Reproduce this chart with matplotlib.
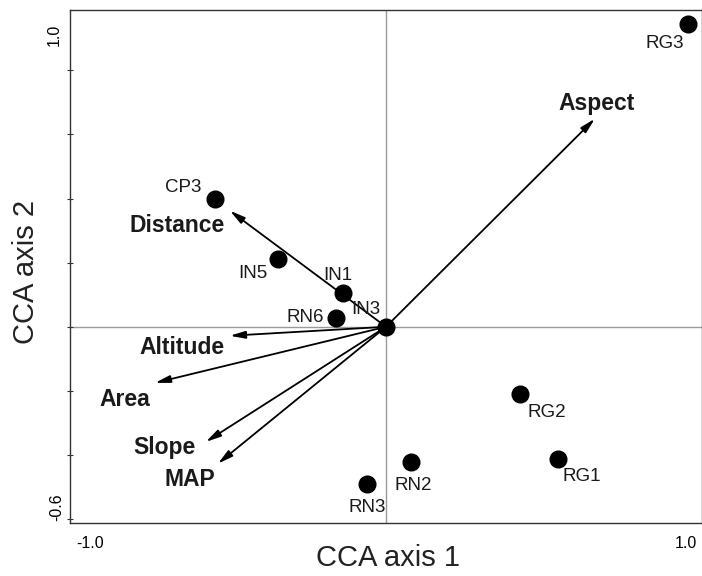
import matplotlib
matplotlib.use('Agg')
import matplotlib.pyplot as plt

plt.rcParams['font.family'] = ['Liberation Sans', 'DejaVu Sans']

# Site scores on the first two CCA axes
sites = ['CP3', 'IN5', 'IN1', 'RN6', 'IN3', 'RN3', 'RN2', 'RG2', 'RG1', 'RG3']
site_x = [-0.541, -0.342, -0.136, -0.158, 0.0, -0.060, 0.079, 0.424, 0.544, 0.956]
site_y = [0.399, 0.212, 0.106, 0.028, 0.0, -0.490, -0.421, -0.209, -0.412, 0.945]

# Environmental variable biplot scores
variables = ['Aspect', 'Distance', 'Altitude', 'Area', 'Slope', 'MAP']
var_x = [0.661, -0.494, -0.494, -0.731, -0.570, -0.532]
var_y = [0.649, 0.362, -0.028, -0.175, -0.359, -0.427]

# label offsets in pixels (dx right, dy up)
site_off = [(-32, 11), (-25, -15), (-5, 17), (-31, 0), (-20, 17),
            (0, -24), (2, -24), (27, -19), (24, -18), (-23, -20)]
var_off = [(2, 15), (-53, -15), (-48, -12), (-30, -17), (-41, -6), (-28, -16)]

W, H = 702, 576
fig = plt.figure(figsize=(W / 100, H / 100), dpi=100)
ax = fig.add_axes([70 / W, (H - 523) / H, (W - 70) / W, 513 / H])

ax.set_xlim(-1.0, 1.0)
ax.set_ylim(-0.612, 0.988)

ax.axhline(0, color='#9a9a9a', lw=1.0, zorder=1)
ax.axvline(0, color='#9a9a9a', lw=1.0, zorder=1)

for vx, vy in zip(var_x, var_y):
    ax.annotate('', xy=(vx, vy), xytext=(0, 0),
                arrowprops=dict(arrowstyle='-|>,head_length=0.9,head_width=0.22',
                                lw=1.3, color='black', shrinkA=0, shrinkB=0),
                zorder=2)

ax.plot(site_x, site_y, 'o', color='black', markersize=12, zorder=3)

for name, sx, sy, off in zip(sites, site_x, site_y, site_off):
    ax.annotate(name, (sx, sy), xytext=off, textcoords='offset pixels',
                ha='center', va='center', fontsize=13.5, color='#1a1a1a')

for name, vx, vy, off in zip(variables, var_x, var_y, var_off):
    ax.annotate(name, (vx, vy), xytext=off, textcoords='offset pixels',
                ha='center', va='center', fontsize=16.5, fontweight='bold',
                color='#1a1a1a')

for side in ['left', 'bottom', 'top', 'right']:
    ax.spines[side].set_color('#333333')
    ax.spines[side].set_linewidth(1.0)

ax.set_xticks([])
ax.set_yticks([-0.6, -0.4, -0.2, 0.0, 0.2, 0.4, 0.6, 0.8])
ax.tick_params(axis='y', direction='inout', length=4, width=0.8,
               labelleft=False, color='#333333')


def px(x, y):
    return x / W, 1 - y / H


fig.text(*px(54, 35), '1.0', rotation=90, ha='center', va='center', fontsize=11.5)
fig.text(*px(57, 507), '-0.6', rotation=90, ha='center', va='center', fontsize=11.5)
fig.text(*px(90, 543), '-1.0', ha='center', va='center', fontsize=11.5)
fig.text(*px(686, 543), '1.0', ha='center', va='center', fontsize=11.5)

fig.text(*px(388, 558), 'CCA axis 1', ha='center', va='center', fontsize=21, color='#222222')
fig.text(*px(26, 272), 'CCA axis 2', rotation=90, ha='center', va='center',
         fontsize=21, color='#222222')

fig.savefig('out.png', dpi=100)
